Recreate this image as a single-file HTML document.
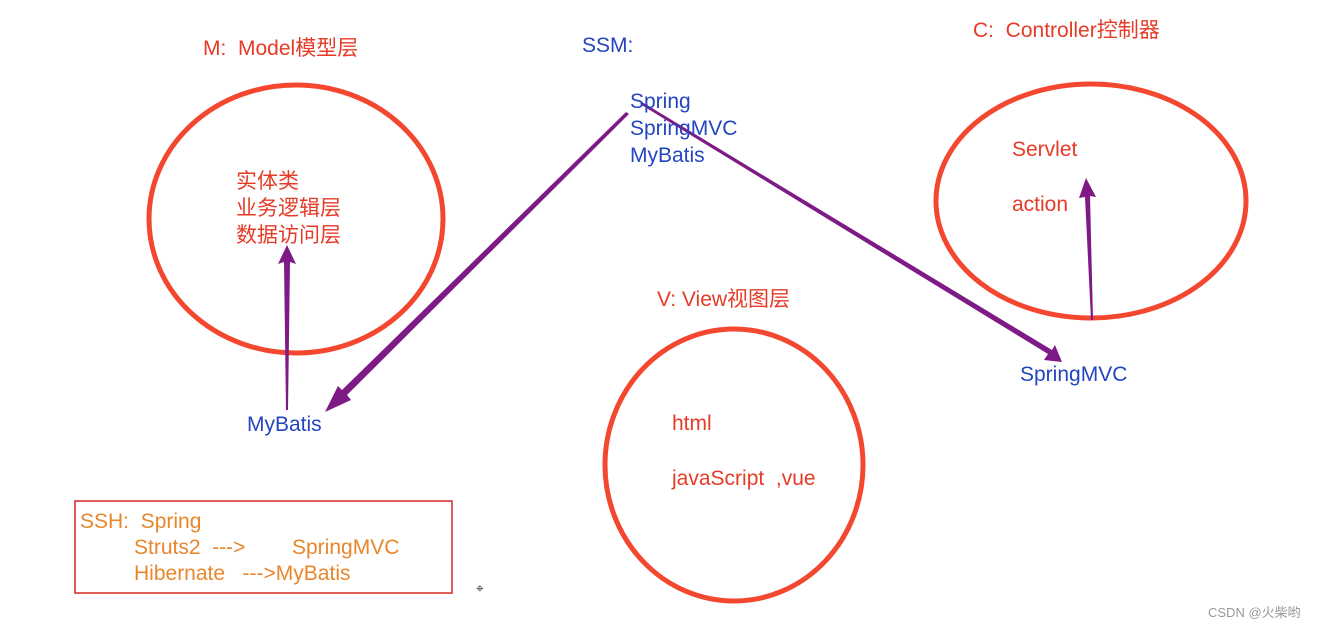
<!DOCTYPE html>
<html><head><meta charset="utf-8"><style>
html,body{margin:0;padding:0;background:#fff;}
svg text{font-family:"Liberation Sans","Noto Sans CJK SC",sans-serif;font-size:21px;white-space:pre;}
.r{fill:#e63b26}.b{fill:#2445c0}.o{fill:#e8862c}
</style></head><body>
<svg width="1322" height="629" viewBox="0 0 1322 629" xmlns="http://www.w3.org/2000/svg" xml:space="preserve">
<g fill="none" stroke="#f4472f" stroke-width="5">
<ellipse cx="296" cy="219" rx="147" ry="134"/>
<ellipse cx="1091" cy="201" rx="155" ry="117"/>
<ellipse cx="734" cy="465" rx="129" ry="136"/>
</g>
<g fill="#7d1a85">
<polygon points="626,112 629,114 347,395 351,400 325,412 338,386 342,390"/>
<polygon points="640,104 642,102 1052,350 1055,345 1062,362 1044,360 1048,354"/>
<polygon points="286,410 288,410 290,262 296,264 287,245 278,264 284,262"/>
<polygon points="1091,320 1093,320 1090,196 1096,197 1086,178 1079,198 1085,197"/>
</g>
<text class="r" x="203" y="55">M:  Model模型层</text>
<text class="b" x="582" y="52">SSM:</text>
<text class="r" x="973" y="37">C:  Controller控制器</text>
<text class="b" x="630" y="108">Spring</text>
<text class="b" x="630" y="135">SpringMVC</text>
<text class="b" x="630" y="162">MyBatis</text>
<text class="r" x="236" y="188">实体类</text>
<text class="r" x="236" y="215">业务逻辑层</text>
<text class="r" x="236" y="242">数据访问层</text>
<text class="r" x="1012" y="156">Servlet</text>
<text class="r" x="1012" y="211">action</text>
<text class="r" x="657" y="306">V: View视图层</text>
<text class="b" x="1020" y="381">SpringMVC</text>
<text class="b" x="247" y="431">MyBatis</text>
<text class="r" x="672" y="430">html</text>
<text class="r" x="672" y="485">javaScript  ,vue</text>
<rect x="75" y="501" width="377" height="92" fill="none" stroke="#d42a20" stroke-width="1.5"/>
<text class="o" x="80" y="528">SSH:  Spring</text>
<text class="o" x="134" y="554">Struts2  ---&gt;</text>
<text class="o" x="292" y="554">SpringMVC</text>
<text class="o" x="134" y="580">Hibernate   ---&gt;MyBatis</text>
<text x="476" y="593" style="font-size:14px" fill="#333">⌖</text>
<text x="1208" y="617" style="font-size:13px" fill="#999">CSDN @火柴哟</text>
</svg>
</body></html>
